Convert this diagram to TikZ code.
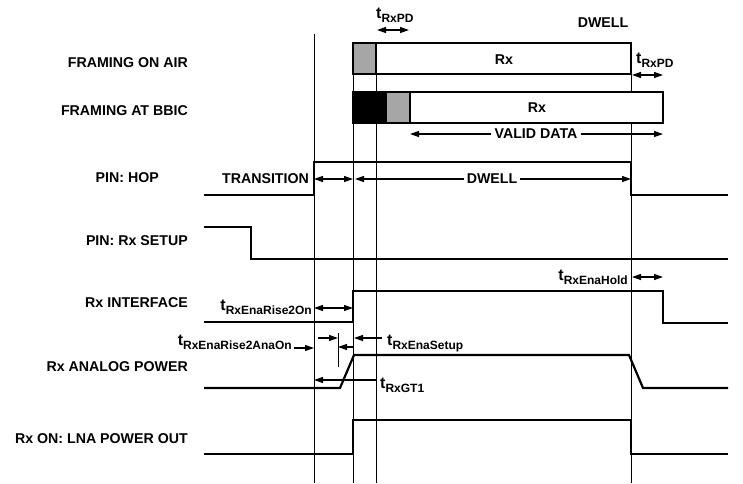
\documentclass[tikz,border=0pt]{standalone}
\usepackage{fontspec}
\setmainfont{Liberation Sans}
\usetikzlibrary{arrows.meta}
\newcommand{\tsub}[1]{{\fontsize{16}{16}\selectfont t}\raisebox{-4pt}{\fontsize{12}{12}\selectfont #1}}
\definecolor{midgray}{HTML}{A6A6A6}
\begin{document}
\begin{tikzpicture}[x=1pt,y=-1pt,
  sig/.style={line width=2.2pt, line join=miter},
  gridline/.style={line width=0.8pt},
  boxline/.style={line width=1.8pt},
  dim/.style={line width=1.2pt, -{Triangle[length=9pt,width=6pt]}},
  dimboth/.style={line width=1.2pt, {Triangle[length=9pt,width=6pt]}-{Triangle[length=9pt,width=6pt]}},
  lbl/.style={font=\bfseries\fontsize{14.2}{16}\selectfont, inner sep=0pt},
  lblgap/.style={lbl, inner xsep=3pt},
  ]
\useasboundingbox (0,0) rectangle (743,483);

% vertical reference lines
\coordinate (A1) at (314,34);  \coordinate (A2) at (314,483);
\coordinate (B1) at (353,43);  \coordinate (B2) at (353,483);
\coordinate (C1) at (376,43);  \coordinate (C2) at (376,483);
\coordinate (D1) at (631,43);  \coordinate (D2) at (631,483);
\draw[gridline] (A1) -- (A2);
\draw[gridline] (B1) -- (B2);
\draw[gridline] (C1) -- (C2);
\draw[gridline] (D1) -- (D2);

% framing on air
\fill[white] (353,43) rectangle (631,74);
\fill[midgray] (353,43) rectangle (376,74);
\draw[boxline] (376,43) -- (376,74);
\draw[boxline] (353,43) rectangle (631,74);
\node[lbl] (rxair) at (504,60) {Rx};

% framing at BBIC
\fill[white] (353,92) rectangle (663,123);
\fill[black] (353,92) rectangle (387,123);
\fill[midgray] (387,92) rectangle (410,123);
\draw[boxline] (410,92) -- (410,123);
\draw[boxline] (353,92) rectangle (663,123);
\node[lbl] (rxbbic) at (537,108) {Rx};

% left labels
\node[lbl, anchor=east] (l1) at (188,62.5) {FRAMING ON AIR};
\node[lbl, anchor=east] (l2) at (188,110.5) {FRAMING AT BBIC};
\node[lbl, anchor=east] (l3) at (159,178) {PIN: HOP};
\node[lbl, anchor=east] (l4) at (188,241) {PIN: Rx SETUP};
\node[lbl, anchor=east] (l5) at (188,303) {Rx INTERFACE};
\node[lbl, anchor=east] (l6) at (188,367) {Rx ANALOG POWER};
\node[lbl, anchor=east] (l7) at (188,439) {Rx ON: LNA POWER OUT};

% signals
\draw[sig] (204,195) -- (314,195) -- (314,162) -- (631,162) -- (631,195) -- (728,195);
\draw[sig] (204,227) -- (251,227) -- (251,259) -- (728,259);
\draw[sig] (204,322) -- (353,322) -- (353,291) -- (663,291) -- (663,323) -- (728,323);
\draw[sig] (204,388) -- (340,388) -- (354,355) -- (629,355) -- (643,388) -- (728,388);
\draw[sig] (204,454) -- (353,454) -- (353,420) -- (631,420) -- (631,454) -- (728,454);

% top annotations
\node[lbl, anchor=base west] (tpd1) at (376,18) {\tsub{RxPD}};
\coordinate (p1a) at (377,30); \coordinate (p1b) at (409,30);
\draw[dimboth] (p1a) -- (p1b);
\node[lbl] (dwtop) at (603,22.5) {DWELL};
\node[lbl, anchor=base west] (tpd2) at (636,63) {\tsub{RxPD}};
\coordinate (p2a) at (632,75); \coordinate (p2b) at (663,75);
\draw[dimboth] (p2a) -- (p2b);

% valid data
\node[lblgap] (vd) at (536,134) {VALID DATA};
\coordinate (vdl) at (410,134); \coordinate (vdr) at (663,134);
\draw[dim] (vd.west) -- (vdl);
\draw[dim] (vd.east) -- (vdr);

% transition / dwell
\node[lbl] (tr) at (265.5,179) {TRANSITION};
\coordinate (h1) at (314,179); \coordinate (h2) at (353,179);
\draw[dimboth] (h1) -- (h2);
\node[lblgap] (dw) at (492,179) {DWELL};
\coordinate (h3) at (355,179); \coordinate (h4) at (631,179);
\draw[dim] (dw.west) -- (h3);
\draw[dim] (dw.east) -- (h4);

% Rx interface timing
\node[lbl, anchor=base east] (tr2on) at (312,310) {\tsub{RxEnaRise2On}};
\coordinate (i1) at (314,308); \coordinate (i2) at (353,308);
\draw[dimboth] (i1) -- (i2);
\node[lbl, anchor=base east] (thold) at (628,280) {\tsub{RxEnaHold}};
\coordinate (k1) at (632,277); \coordinate (k2) at (663,277);
\draw[dimboth] (k1) -- (k2);

% analog power timing
\coordinate (tk1) at (338,333); \coordinate (tk2) at (338,367);
\draw[gridline] (tk1) -- (tk2);
\node[lbl, anchor=base east] (tana) at (292,345) {\tsub{RxEnaRise2AnaOn}};
\coordinate (m1) at (294,348); \coordinate (m2) at (314,348);
\draw[dim] (m1) -- (m2);
\coordinate (m3) at (353,347); \coordinate (m4) at (338,347);
\draw[dim] (m3) -- (m4);
\coordinate (s1) at (318,338); \coordinate (s2) at (338,338);
\draw[dim] (s1) -- (s2);
\coordinate (s3) at (382,338); \coordinate (s4) at (354,338);
\draw[dim] (s3) -- (s4);
\node[lbl, anchor=base west] (tsetup) at (387,345) {\tsub{RxEnaSetup}};
\coordinate (g1) at (376,380); \coordinate (g2) at (314,380);
\draw[dim] (g1) -- (g2);
\node[lbl, anchor=base west] (tgt) at (380,388) {\tsub{RxGT1}};
\end{tikzpicture}
\end{document}
